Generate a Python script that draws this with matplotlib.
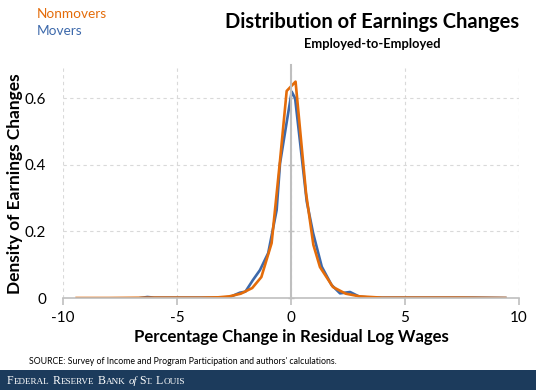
import matplotlib.pyplot as plt

# Nonmovers (orange) density of earnings changes
nonmover_x = [-9.4, -8.0, -6.0, -5.0, -4.0, -3.2, -2.7, -2.2, -1.7, -1.3, -0.85, -0.48, -0.19,
              0.2, 0.66, 0.98, 1.27, 1.84, 2.4, 3.0, 4.0, 5.0, 6.0, 7.5, 9.4]
nonmover_y = [0.0, 0.0, 0.001, 0.001, 0.001, 0.002, 0.005, 0.013, 0.03, 0.063, 0.165, 0.414, 0.622,
              0.65, 0.315, 0.16, 0.093, 0.033, 0.013, 0.005, 0.001, 0.001, 0.001, 0.001, 0.0]

# Movers (blue)
mover_x = [-6.6, -6.3, -6.0, -5.0, -4.0, -3.1, -2.68, -2.24, -2.0, -1.67, -1.36, -1.0, -0.63,
           -0.48, -0.22, 0.03, 0.18, 0.69, 0.97, 1.35, 1.78, 2.15, 2.59, 3.0, 3.5, 4.5, 6.0, 8.0, 9.4]
mover_y = [0.0, 0.003, 0.001, 0.001, 0.001, 0.001, 0.003, 0.016, 0.019, 0.054, 0.084, 0.135, 0.264,
           0.405, 0.515, 0.62, 0.6, 0.29, 0.195, 0.094, 0.039, 0.014, 0.018, 0.004, 0.001, 0.001,
           0.001, 0.001, 0.0]

xticks = [-10, -5, 0, 5, 10]
yticks = [0, 0.2, 0.4, 0.6]
ytick_labels = ['0', '0.2', '0.4', '0.6']

ORANGE = '#e46c0a'
BLUE = '#3d69ab'
GRID = '#d9d9d9'
AXIS = '#bfbfbf'

plt.rcParams['font.family'] = ['Lato', 'DejaVu Sans']

fig = plt.figure(figsize=(5.36, 3.9), dpi=100)
ax = fig.add_axes([63 / 536, 92 / 390, 456 / 536, 233 / 390])

ax.plot(mover_x, mover_y, color=BLUE, lw=1.9, solid_joinstyle='round')
ax.plot(nonmover_x, nonmover_y, color=ORANGE, lw=1.9, solid_joinstyle='round')

ax.set_xlim(-10, 10)
ax.set_ylim(0, 0.7)
ax.set_xticks(xticks)
ax.set_yticks(yticks)
ax.grid(True, color=GRID, linestyle=(0, (3, 3)), linewidth=0.8)
ax.set_axisbelow(True)

for s in ['top', 'right']:
    ax.spines[s].set_visible(False)
ax.spines['bottom'].set_color(AXIS)
ax.spines['bottom'].set_linewidth(1.2)
ax.spines['left'].set_position(('data', 0))
ax.spines['left'].set_color(AXIS)
ax.spines['left'].set_linewidth(1.5)
ax.tick_params(axis='x', colors=AXIS, length=5, width=1.2, labelsize=11, labelcolor='black', pad=4)
ax.tick_params(axis='y', colors=AXIS, length=4, width=1.0, direction='inout', labelleft=False)
ax.set_xticklabels([str(t) for t in xticks])

# y tick labels sit at the left edge of the plot
sec = ax.secondary_yaxis(0.0)
sec.spines['left'].set_visible(False)
sec.set_yticks(yticks)
sec.set_yticklabels(ytick_labels)
sec.tick_params(length=0, labelsize=11, pad=12)

ax.set_xlabel('Percentage Change in Residual Log Wages', fontsize=12.1, fontweight='bold', labelpad=3)
fig.text(15 / 536, 1 - 184 / 390, 'Density of Earnings Changes', rotation=90,
         fontsize=12.5, fontweight='bold', ha='center', va='center')

fig.text(372 / 536, 1 - 22 / 390, 'Distribution of Earnings Changes', fontsize=14.5,
         fontweight='bold', ha='center', va='center')
fig.text(372 / 536, 1 - 44 / 390, 'Employed-to-Employed', fontsize=9.3,
         fontweight='bold', ha='center', va='center')

fig.text(37 / 536, 1 - 14 / 390, 'Nonmovers', color=ORANGE, fontsize=9.8, ha='left', va='center')
fig.text(37 / 536, 1 - 31 / 390, 'Movers', color=BLUE, fontsize=9.8, ha='left', va='center')

fig.text(29 / 536, 1 - 362 / 390, "SOURCE: Survey of Income and Program Participation and authors' calculations.",
         fontsize=6.3, ha='left', va='center')

# footer band with small-caps style name
fig.patches.append(plt.Rectangle((0, 0), 1, 20 / 390, transform=fig.transFigure,
                                 facecolor='#1c3b5c', edgecolor='none'))
footer_parts = [('F', 8.5, 'normal', 0), ('EDERAL', 6.6, 'normal', 3.5),
                ('R', 8.5, 'normal', 0), ('ESERVE', 6.6, 'normal', 3.5),
                ('B', 8.5, 'normal', 0), ('ANK', 6.6, 'normal', 3.0),
                ('of', 7.8, 'italic', 2.5),
                ('S', 8.5, 'normal', 0), ('T.', 6.6, 'normal', 3.0),
                ('L', 8.5, 'normal', 0), ('OUIS', 6.6, 'normal', 0)]
renderer = fig.canvas.get_renderer()
xpos = 7.0
for txt, size, style, gap in footer_parts:
    t = fig.text(xpos / 536, 6 / 390, txt, color='white', fontsize=size, style=style,
                 family='Liberation Serif', va='baseline', ha='left')
    xpos += t.get_window_extent(renderer).width + gap

fig.savefig('out.png', dpi=100)
